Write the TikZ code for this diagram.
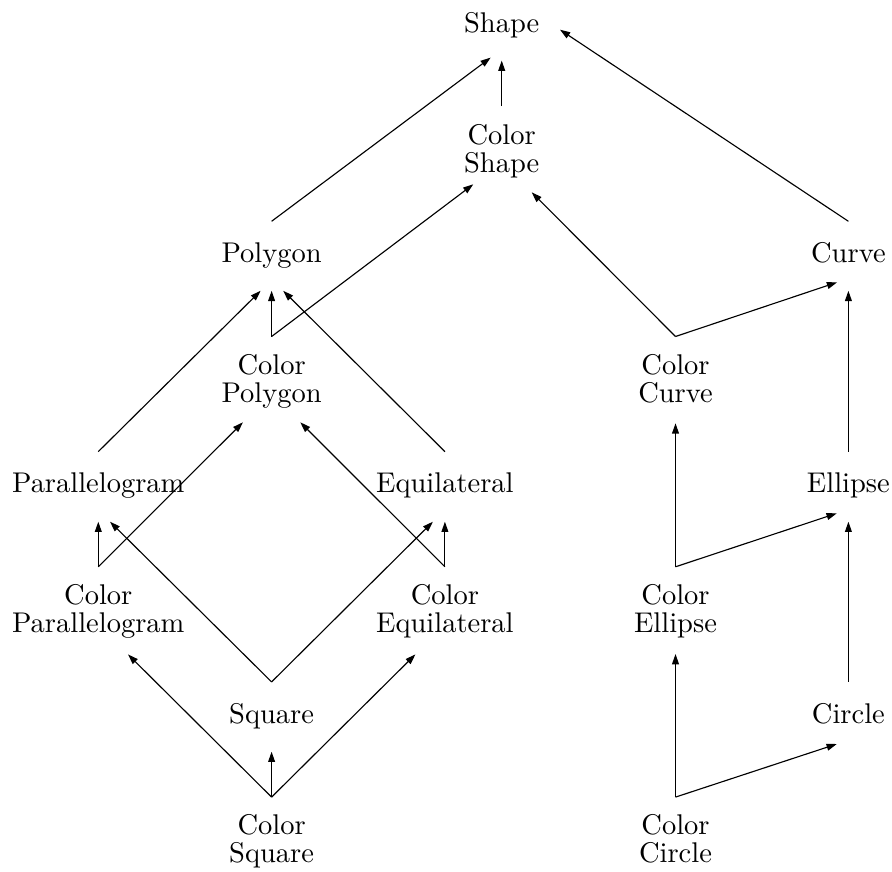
\documentclass[tikz,border=0pt]{standalone}
\usetikzlibrary{arrows.meta,calc}
\begin{document}
\begin{tikzpicture}[x=0.35088pt,y=-0.35088pt,
  lbl/.style={inner sep=0pt,outer sep=0pt,align=center,anchor=base,font=\fontsize{10}{9.8}\selectfont},
  arr/.style={line width=0.4pt,-{Triangle[length=3.6pt,width=2.4pt]}}]
\useasboundingbox (0,0) rectangle (892,871);
% nodes (base = baseline of the last line)
\node[lbl] (shape)  at (501.7,32.3)  {Shape};
\node[lbl] (cshape) at (501.7,172.0) {Color\\Shape};
\node[lbl] (poly)   at (271.6,262.6) {Polygon};
\node[lbl] (curve)  at (848.4,262.6) {Curve};
\node[lbl] (cpoly)  at (271.6,402.3) {Color\\Polygon};
\node[lbl] (ccurve) at (675.5,402.3) {Color\\Curve};
\node[lbl] (par)    at (98.3,492.9)  {Parallelogram};
\node[lbl] (equi)   at (444.9,492.9) {Equilateral};
\node[lbl] (ell)    at (848.4,492.9) {Ellipse};
\node[lbl] (cpar)   at (98.3,632.6)  {Color\\Parallelogram};
\node[lbl] (cequi)  at (444.9,632.6) {Color\\Equilateral};
\node[lbl] (cell)   at (675.5,632.6) {Color\\Ellipse};
\node[lbl] (sq)     at (271.6,723.2) {Square};
\node[lbl] (circ)   at (848.4,723.2) {Circle};
\node[lbl] (csq)    at (271.6,862.9) {Color\\Square};
\node[lbl] (ccirc)  at (675.5,862.9) {Color\\Circle};
% edges
\draw[arr] ($(cshape.base)+(0,-65.8)$) -- ($(shape.base)+(0,28.3)$);
\draw[arr] ($(poly.base)+(0,-41.3)$)   -- ($(shape.base)+(-11,25.3)$);
\draw[arr] ($(curve.base)+(0,-41.3)$)  -- ($(shape.base)+(58.3,-2.6)$);
\draw[arr] ($(cpoly.base)+(0,-65.8)$)  -- ($(poly.base)+(0,28.2)$);
\draw[arr] ($(cpoly.base)+(0,-65.8)$)  -- ($(cshape.base)+(-28.4,12.3)$);
\draw[arr] ($(ccurve.base)+(0,-65.8)$) -- ($(cshape.base)+(30,20.3)$);
\draw[arr] ($(ccurve.base)+(0,-65.8)$) -- ($(curve.base)+(-11.3,19.7)$);
\draw[arr] ($(par.base)+(0,-41.3)$)    -- ($(poly.base)+(-11,28.2)$);
\draw[arr] ($(equi.base)+(0,-41.3)$)   -- ($(poly.base)+(11.6,28.2)$);
\draw[arr] ($(ell.base)+(0,-41.3)$)    -- ($(curve.base)+(0,28.2)$);
\draw[arr] ($(cpar.base)+(0,-65.8)$)   -- ($(par.base)+(0,28.8)$);
\draw[arr] ($(cpar.base)+(0,-65.8)$)   -- ($(cpoly.base)+(-28.7,20)$);
\draw[arr] ($(cequi.base)+(0,-65.8)$)  -- ($(equi.base)+(0,28.8)$);
\draw[arr] ($(cequi.base)+(0,-65.8)$)  -- ($(cpoly.base)+(28.7,20)$);
\draw[arr] ($(cell.base)+(0,-65.8)$)   -- ($(ccurve.base)+(0,21)$);
\draw[arr] ($(cell.base)+(0,-65.8)$)   -- ($(ell.base)+(-11.6,20.4)$);
\draw[arr] ($(sq.base)+(0,-41.3)$)     -- ($(par.base)+(11.7,28.8)$);
\draw[arr] ($(sq.base)+(0,-41.3)$)     -- ($(equi.base)+(-12,28.8)$);
\draw[arr] ($(circ.base)+(0,-41.3)$)   -- ($(ell.base)+(0,28.8)$);
\draw[arr] ($(csq.base)+(0,-65.8)$)    -- ($(sq.base)+(0,28.5)$);
\draw[arr] ($(csq.base)+(0,-65.8)$)    -- ($(cpar.base)+(29.7,21.8)$);
\draw[arr] ($(csq.base)+(0,-65.8)$)    -- ($(cequi.base)+(-29.5,21.8)$);
\draw[arr] ($(ccirc.base)+(0,-65.8)$)  -- ($(cell.base)+(0,21.4)$);
\draw[arr] ($(ccirc.base)+(0,-65.8)$)  -- ($(circ.base)+(-11.6,20.8)$);
\end{tikzpicture}
\end{document}
